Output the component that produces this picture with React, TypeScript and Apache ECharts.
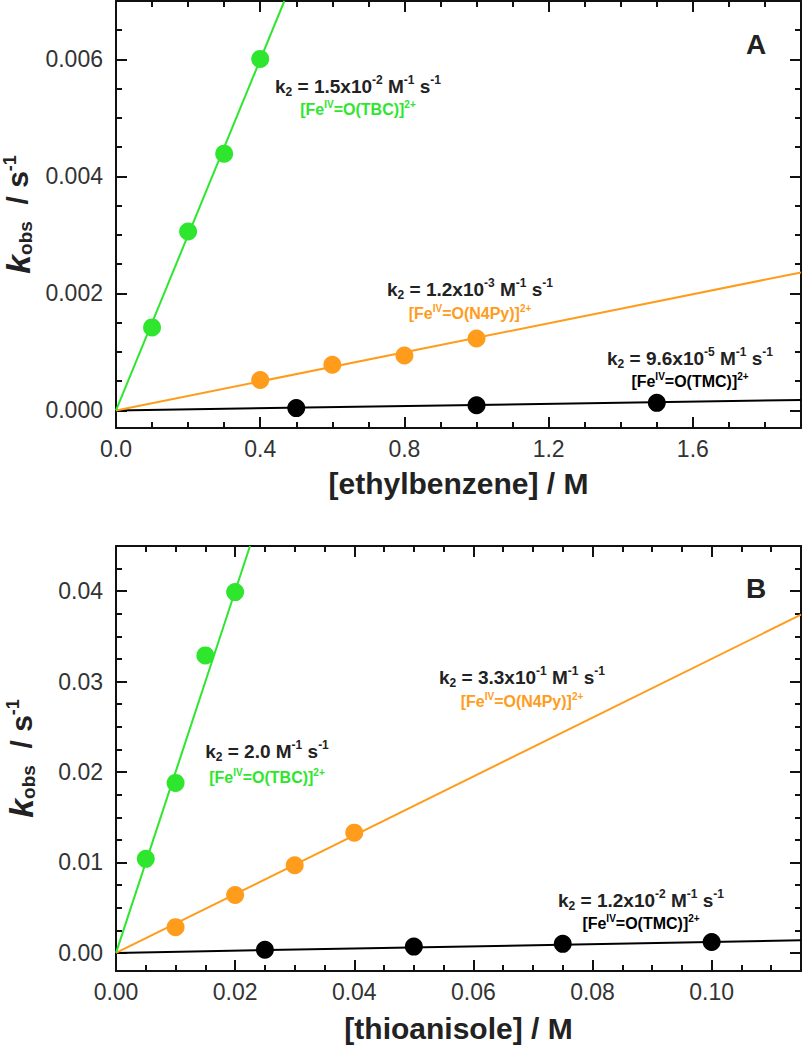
import React, { useEffect, useRef } from "react";
import * as echarts from "echarts";

// ---------- Panel A : ethylbenzene ----------
const ethylTBC_x = [0.1, 0.2, 0.3, 0.4];
const ethylTBC_y = [0.00142, 0.00306, 0.00439, 0.00601];
const ethylN4Py_x = [0.4, 0.6, 0.8, 1.0];
const ethylN4Py_y = [0.00052, 0.00078, 0.00094, 0.00123];
const ethylTMC_x = [0.5, 1.0, 1.5];
const ethylTMC_y = [0.00004, 0.00009, 0.00013];
const ethylFitTBC = [[0, 0], [0.467, 0.007]];
const ethylFitN4Py = [[0, 0], [1.9, 0.00236]];
const ethylFitTMC = [[0, 0], [1.9, 0.00018]];

// ---------- Panel B : thioanisole ----------
const thioTBC_x = [0.005, 0.01, 0.015, 0.02];
const thioTBC_y = [0.0104, 0.0188, 0.0329, 0.0399];
const thioN4Py_x = [0.01, 0.02, 0.03, 0.04];
const thioN4Py_y = [0.00285, 0.0064, 0.0097, 0.0133];
const thioTMC_x = [0.025, 0.05, 0.075, 0.1];
const thioTMC_y = [0.00035, 0.0007, 0.001, 0.0012];
const thioFitTBC = [[0, 0], [0.0225, 0.045]];
const thioFitN4Py = [[0, 0], [0.115, 0.0374]];
const thioFitTMC = [[0, 0], [0.115, 0.0014]];

// ---------- ticks ----------
const aXMajor = [0, 0.4, 0.8, 1.2, 1.6];
const aXMinor = [0.1, 0.2, 0.3, 0.5, 0.6, 0.7, 0.9, 1.0, 1.1, 1.3, 1.4, 1.5, 1.7, 1.8];
const aYMajor = [0, 0.002, 0.004, 0.006];
const aYMinor = [0.0005, 0.001, 0.0015, 0.0025, 0.003, 0.0035, 0.0045, 0.005, 0.0055, 0.0065];
const bXMajor = [0, 0.02, 0.04, 0.06, 0.08, 0.1];
const bXMinor = [0.005, 0.01, 0.015, 0.025, 0.03, 0.035, 0.045, 0.05, 0.055, 0.065, 0.07, 0.075, 0.085, 0.09, 0.095, 0.105, 0.11];
const bYMajor = [0, 0.01, 0.02, 0.03, 0.04];
const bYMinor = [0.0025, 0.005, 0.0075, 0.0125, 0.015, 0.0175, 0.0225, 0.025, 0.0275, 0.0325, 0.035, 0.0375, 0.0425];

const FONT = "'Liberation Sans', Arial, Helvetica, sans-serif";
const AX = "#111";
const GREEN = "#2ee62e";
const ORANGE = "#ff9c1c";
const BLACK = "#000";

const zip = (xs: number[], ys: number[]) => xs.map((x, i) => [x, ys[i]]);

function axes(kind: "x" | "y", grid: number, min: number, max: number, major: number[], minor: number[], dec: number, name: any, nameGap: number, nameStyle: any) {
  const common: any = { type: "value", gridIndex: grid, min, max, splitLine: { show: false } };
  const posA = kind === "x" ? "bottom" : "left";
  const posB = kind === "x" ? "top" : "right";
  const line = { show: true, onZero: false, lineStyle: { color: AX, width: 2 } };
  const noLine = { show: false, onZero: false };
  const majT = { show: true, inside: true, length: 11, lineStyle: { color: AX, width: 2 }, customValues: major };
  const minT = { show: true, inside: true, length: 6, lineStyle: { color: AX, width: 2 }, customValues: minor };
  return [
    {
      ...common, position: posA, axisLine: line, axisTick: majT,
      axisLabel: { show: true, customValues: major, formatter: (v: number) => v.toFixed(dec), margin: kind === "x" ? 9 : 13, color: "#333", fontSize: 23, fontFamily: FONT },
      name, nameLocation: "middle", nameGap, nameRotate: kind === "y" ? 90 : 0, nameTextStyle: nameStyle,
    },
    { ...common, position: posA, axisLine: noLine, axisTick: minT, axisLabel: { show: false } },
    { ...common, position: posB, axisLine: line, axisTick: majT, axisLabel: { show: false } },
    { ...common, position: posB, axisLine: noLine, axisTick: minT, axisLabel: { show: false } },
  ];
}

const xTitleStyle = { fontFamily: FONT, fontSize: 30, fontWeight: "bold", color: "#222" };
const yTitleStyle = {
  fontFamily: FONT, color: "#222",
  rich: {
    k: { fontFamily: FONT, fontSize: 34, fontStyle: "italic", fontWeight: "bold", color: "#222", lineHeight: 34, verticalAlign: "middle" },
    sub: { fontFamily: FONT, fontSize: 19, fontWeight: "bold", color: "#222", lineHeight: 15, verticalAlign: "bottom" },
    n: { fontFamily: FONT, fontSize: 30, fontWeight: "bold", color: "#222", lineHeight: 34, verticalAlign: "middle" },
    sup: { fontFamily: FONT, fontSize: 18, fontWeight: "bold", color: "#222", lineHeight: 15, verticalAlign: "top" },
  },
};
const yTitle = "{k|k}{sub|obs}{n|  / s}{sup|-1}";

const kRich = {
  b: { fontFamily: FONT, fontSize: 19, fontWeight: "bold", fill: "#222", lineHeight: 24, verticalAlign: "middle" },
  sub: { fontFamily: FONT, fontSize: 12, fontWeight: "bold", fill: "#222", lineHeight: 11, verticalAlign: "bottom" },
  sup: { fontFamily: FONT, fontSize: 12, fontWeight: "bold", fill: "#222", lineHeight: 11, verticalAlign: "top" },
};
function kText(cx: number, cy: number, mant: string, exp: string | null) {
  const t = exp === null
    ? `{b|k}{sub|2}{b| = ${mant} M}{sup|-1}{b| s}{sup|-1}`
    : `{b|k}{sub|2}{b| = ${mant}x10}{sup|${exp}}{b| M}{sup|-1}{b| s}{sup|-1}`;
  return { type: "text", x: cx, y: cy, style: { text: t, rich: kRich, align: "center", verticalAlign: "middle" } };
}
function cText(cx: number, cy: number, lig: string, color: string) {
  const r = {
    b: { fontFamily: FONT, fontSize: 16, fontWeight: "bold", fill: color, lineHeight: 20, verticalAlign: "middle" },
    sup: { fontFamily: FONT, fontSize: 10, fontWeight: "bold", fill: color, lineHeight: 10, verticalAlign: "top" },
  };
  return { type: "text", x: cx, y: cy, style: { text: `{b|[Fe}{sup|IV}{b|=O(${lig})]}{sup|2+}`, rich: r, align: "center", verticalAlign: "middle" } };
}
function letter(cx: number, cy: number, s: string) {
  return { type: "text", x: cx, y: cy, style: { text: s, fontFamily: FONT, fontSize: 28, fontWeight: "bold", fill: "#222", align: "center", verticalAlign: "middle" } };
}

function lineS(data: number[][], color: string, xi: number) {
  return { type: "line", data, xAxisIndex: xi, yAxisIndex: xi, showSymbol: false, symbol: "none", lineStyle: { color, width: 2 }, z: 2, silent: true };
}
function dotS(data: number[][], color: string, xi: number) {
  return { type: "scatter", data, xAxisIndex: xi, yAxisIndex: xi, symbol: "circle", symbolSize: 18, itemStyle: { color, opacity: 1 }, z: 3 };
}

export default function App() {
  const ref = useRef<HTMLDivElement>(null);
  useEffect(() => {
    const chart = echarts.init(ref.current!, null, { renderer: "svg" });
    const option: any = {
      animation: false,
      backgroundColor: "#fff",
      grid: [
        { left: 116, top: 1, width: 685, height: 427, containLabel: false, outerBoundsMode: "none" },
        { left: 116, top: 546, width: 685, height: 425, containLabel: false, outerBoundsMode: "none" },
      ],
      xAxis: [
        ...axes("x", 0, 0, 1.9, aXMajor, aXMinor, 1, "[ethylbenzene] / M", 40, xTitleStyle),
        ...axes("x", 1, 0, 0.115, bXMajor, bXMinor, 2, "[thioanisole] / M", 42, xTitleStyle),
      ],
      yAxis: [
        ...axes("y", 0, -0.0003, 0.007, aYMajor, aYMinor, 3, yTitle, 78, yTitleStyle),
        ...axes("y", 1, -0.002, 0.045, bYMajor, bYMinor, 2, yTitle, 78, yTitleStyle),
      ],
      series: [
        lineS(ethylFitTMC, BLACK, 0),
        lineS(ethylFitN4Py, ORANGE, 0),
        lineS(ethylFitTBC, GREEN, 0),
        dotS(zip(ethylTMC_x, ethylTMC_y), BLACK, 0),
        dotS(zip(ethylN4Py_x, ethylN4Py_y), ORANGE, 0),
        dotS(zip(ethylTBC_x, ethylTBC_y), GREEN, 0),
        lineS(thioFitTMC, BLACK, 4),
        lineS(thioFitN4Py, ORANGE, 4),
        lineS(thioFitTBC, GREEN, 4),
        dotS(zip(thioTMC_x, thioTMC_y), BLACK, 4),
        dotS(zip(thioN4Py_x, thioN4Py_y), ORANGE, 4),
        dotS(zip(thioTBC_x, thioTBC_y), GREEN, 4),
      ],
      graphic: [
        letter(756, 44, "A"),
        kText(358, 86, "1.5", "-2"),
        cText(358, 109, "TBC", GREEN),
        kText(470, 289, "1.2", "-3"),
        cText(470, 313, "N4Py", ORANGE),
        kText(690, 358, "9.6", "-5"),
        cText(690, 381, "TMC", BLACK),
        letter(756, 588, "B"),
        kText(267, 751, "2.0", null),
        cText(267, 777, "TBC", GREEN),
        kText(522, 677, "3.3", "-1"),
        cText(522, 701, "N4Py", ORANGE),
        kText(641, 900, "1.2", "-2"),
        cText(641, 923, "TMC", BLACK),
      ],
    };
    chart.setOption(option);
    return () => chart.dispose();
  }, []);
  return <div ref={ref} style={{ position: "absolute", left: 0, top: 0, width: 804, height: 1050, background: "#fff" }} />;
}
